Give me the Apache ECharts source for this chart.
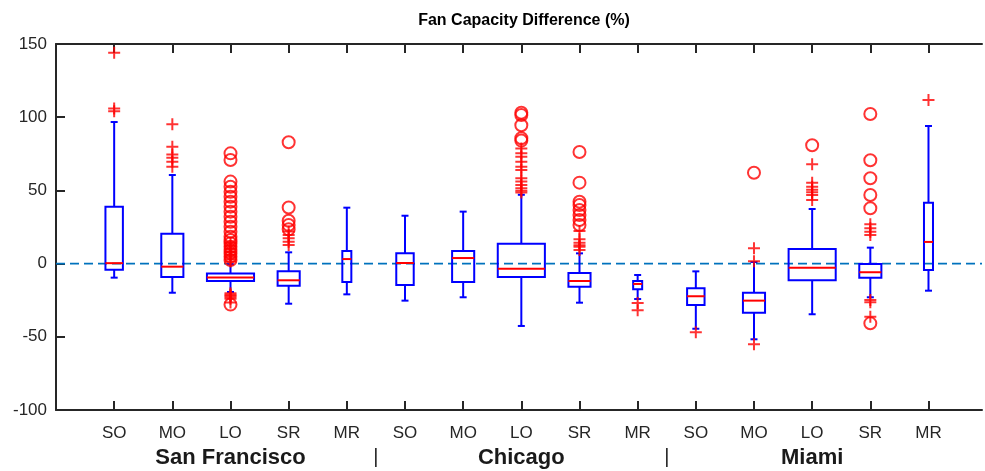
<!DOCTYPE html>
<html>
<head>
<meta charset="utf-8">
<script src="https://cdn.jsdelivr.net/npm/echarts@6/dist/echarts.min.js"></script>
<style>
html,body{margin:0;padding:0;background:#fff;}
#chart{width:985px;height:471px;}
</style>
</head>
<body>
<div id="chart"></div>
<script>
// ---------- DATA ----------
const categories = ['SO', 'MO', 'LO', 'SR', 'MR'];
const groups = ['San Francisco', 'Chicago', 'Miami'];
const yMin = -100, yMax = 150, yStep = 50;

// [lowerWhisker, Q1, median, Q3, upperWhisker] for each box, in order SF(SO..MR), Chicago, Miami
const boxStats = [
  [-9.6, -4.2, 0.3, 38.8, 96.7],
  [-19.9, -9.2, -2.1, 20.4, 60.5],
  [-19.4, -11.9, -9.5, -6.8, -0.5],
  [-27.4, -15.1, -11.4, -5.3, 7.7],
  [-21.0, -12.6, 3.1, 8.6, 38.2],
  [-25.3, -14.6, 0.4, 7.0, 32.7],
  [-23.0, -12.6, 3.8, 8.6, 35.5],
  [-42.6, -9.2, -3.5, 13.6, 47.0],
  [-26.7, -15.8, -11.9, -6.4, 7.0],
  [-24.2, -17.6, -13.9, -11.9, -7.8],
  [-44.5, -28.3, -22.3, -16.9, -5.3],
  [-51.7, -33.5, -25.3, -19.9, 1.1],
  [-34.6, -11.4, -2.8, 10.0, 37.3],
  [-23.0, -9.6, -5.9, -0.3, 10.9],
  [-18.5, -4.4, 14.8, 41.6, 94.0]
];

// outliers drawn as '+'
const plusOutliers = [
  [144, 106, 104],
  [95.2, 79.9, 74.6, 72.3, 69.5, 66.1],
  [1.5, 3, 4.5, 6, 8, 10, 12, 14, -20.3, -21.2, -22, -23, -24, -26.5],
  [22, 19.5, 17.3, 15, 12.7],
  [],
  [],
  [],
  [78.7, 75.3, 73, 69.6, 66.2, 63.9, 58.3, 56, 53.7, 51.4, 49.8, 48.5],
  [22.3, 16.6, 14.3, 12.5, 11.5, 9.3],
  [-26.9, -31.9],
  [-46.9],
  [10.4, 1.6, -55.1],
  [67.8, 55.3, 52.5, 50.5, 48.7, 46.9, 43.4],
  [26.8, 24.1, 21.8, 19.5, -24.9, -26.4, -36.3],
  [111.7]
];

// outliers drawn as 'o'
const circleOutliers = [
  [],
  [],
  [75.3, 70.8, 56, 52.5, 49, 45.7, 42.3, 38.9, 35.5, 32, 28.6, 25.2, 21.8, 18.4, 16.1, 13.9, 11.5, 9.3, 7, 4.7, 2.5, -28],
  [82.9, 38.3, 29.3, 26.4, 23.4],
  [],
  [],
  [],
  [103, 101.5, 94.5, 85.6, 84],
  [76.2, 55.3, 42.3, 40, 36.6, 33.2, 29.8, 26.4],
  [],
  [],
  [62.1],
  [80.8],
  [102.2, 70.6, 58.3, 46.9, 37.8, -40.8],
  []
];

// ---------- STYLE ----------
const boxWidthByType = [0.30, 0.38, 0.81, 0.38, 0.155]; // in category units
const capPx = 7;
const blue = '#0000FF', red = '#FF0000', axisCol = '#262626';
const xMax = 15.92;
const nPer = categories.length;
const nBox = nPer * groups.length;
const lw = 2;

const tickPositions = boxStats.map((s, i) => i + 1);
const boxData = boxStats.map((s, i) => [i + 1].concat(s));
const plusData = [], circData = [];
plusOutliers.forEach((arr, i) => arr.forEach(v => plusData.push([i + 1, v])));
circleOutliers.forEach((arr, i) => arr.forEach(v => circData.push([i + 1, v])));

const chart = echarts.init(document.getElementById('chart'), null, {renderer: 'canvas'});

function catLabel(v) {
  const k = Math.round(v);
  if (Math.abs(v - k) > 1e-6 || k < 1 || k > nBox) return '';
  return categories[(k - 1) % nPer];
}
function groupLabel(v) {
  for (let g = 0; g < groups.length; g++) {
    if (Math.abs(v - (g * nPer + 3)) < 1e-6) return '{g|' + groups[g] + '}';
    if (g > 0 && Math.abs(v - (g * nPer + 0.5)) < 1e-6) return '{s||}';
  }
  return '';
}

const option = {
  animation: false,
  backgroundColor: '#fff',
  textStyle: {fontFamily: "'Liberation Sans', Arial, Helvetica, sans-serif"},
  title: {
    text: 'Fan Capacity Difference (%)',
    left: 519, top: 8, textAlign: 'center',
    textStyle: {fontSize: 16, fontWeight: 'bold', color: '#000', fontFamily: "'Liberation Sans', Arial, sans-serif"}
  },
  grid: {left: 56, right: 0, top: 44, bottom: 61},
  xAxis: [
    {
      type: 'value', min: 0, max: xMax, interval: 1, position: 'bottom',
      axisLine: {show: true, onZero: false, lineStyle: {color: axisCol, width: 2}},
      axisTick: {show: true, inside: true, length: 9, customValues: tickPositions, lineStyle: {color: axisCol, width: 2}},
      axisLabel: {formatter: catLabel, customValues: tickPositions, fontSize: 17, color: axisCol, margin: 15},
      splitLine: {show: false}
    },
    {
      type: 'value', min: 0, max: xMax, interval: 0.5, position: 'bottom',
      axisLine: {show: false}, axisTick: {show: false}, splitLine: {show: false},
      axisLabel: {
        formatter: groupLabel, margin: 37,
        rich: {
          g: {fontSize: 22, fontWeight: 'bold', color: '#1a1a1a', fontFamily: "'Liberation Sans', Arial, sans-serif"},
          s: {fontSize: 20, color: axisCol, fontFamily: "'Liberation Sans', Arial, sans-serif"}
        }
      }
    },
    {
      type: 'value', min: 0, max: xMax, interval: 1, position: 'top',
      axisLine: {show: true, onZero: false, lineStyle: {color: axisCol, width: 2}},
      axisTick: {show: true, inside: true, length: 9, customValues: tickPositions, lineStyle: {color: axisCol, width: 2}},
      axisLabel: {show: false}, splitLine: {show: false}
    }
  ],
  yAxis: {
    type: 'value', min: yMin, max: yMax, interval: yStep,
    axisLine: {show: true, onZero: false, lineStyle: {color: axisCol, width: 2}},
    axisTick: {show: true, inside: true, length: 9, lineStyle: {color: axisCol, width: 2}},
    axisLabel: {fontSize: 17, color: axisCol, margin: 9},
    splitLine: {show: false}
  },
  series: [
    {
      type: 'line', xAxisIndex: 0, data: [[0, 0], [xMax, 0]], symbol: 'none', z: 1,
      lineStyle: {color: '#0072BD', width: 1.6, type: [9, 5]}, silent: true
    },
    {
      type: 'custom', xAxisIndex: 0, z: 3, data: boxData,
      encode: {x: 0, y: [1, 2, 3, 4, 5]},
      renderItem: function (params, api) {
        const x = api.value(0);
        const w = boxWidthByType[params.dataIndex % nPer];
        const pLow = api.coord([x, api.value(1)]);
        const pQ1 = api.coord([x, api.value(2)]);
        const pMed = api.coord([x, api.value(3)]);
        const pQ3 = api.coord([x, api.value(4)]);
        const pHigh = api.coord([x, api.value(5)]);
        const half = api.size([w, 0])[0] / 2;
        const cx = pMed[0];
        const bl = {stroke: blue, lineWidth: lw, fill: null};
        return {
          type: 'group',
          children: [
            {type: 'line', shape: {x1: cx, y1: pQ3[1], x2: cx, y2: pHigh[1]}, style: bl},
            {type: 'line', shape: {x1: cx, y1: pQ1[1], x2: cx, y2: pLow[1]}, style: bl},
            {type: 'line', shape: {x1: cx - capPx / 2, y1: pHigh[1], x2: cx + capPx / 2, y2: pHigh[1]}, style: bl},
            {type: 'line', shape: {x1: cx - capPx / 2, y1: pLow[1], x2: cx + capPx / 2, y2: pLow[1]}, style: bl},
            {type: 'rect', shape: {x: cx - half, y: pQ3[1], width: 2 * half, height: pQ1[1] - pQ3[1]}, style: {stroke: blue, lineWidth: lw, fill: 'rgba(0,0,0,0)'}},
            {type: 'line', shape: {x1: cx - half, y1: pMed[1], x2: cx + half, y2: pMed[1]}, style: {stroke: red, lineWidth: lw}}
          ]
        };
      }
    },
    {
      type: 'scatter', xAxisIndex: 0, z: 4, data: plusData,
      symbol: 'path://M5,0L5,10M0,5L10,5', symbolSize: 12, symbolKeepAspect: true,
      itemStyle: {color: 'rgba(0,0,0,0)', borderColor: red, borderWidth: 2}
    },
    {
      type: 'scatter', xAxisIndex: 0, z: 4, data: circData,
      symbol: 'circle', symbolSize: 12,
      itemStyle: {color: 'rgba(0,0,0,0)', borderColor: red, borderWidth: 2}
    }
  ]
};
chart.setOption(option);
</script>
</body>
</html>
